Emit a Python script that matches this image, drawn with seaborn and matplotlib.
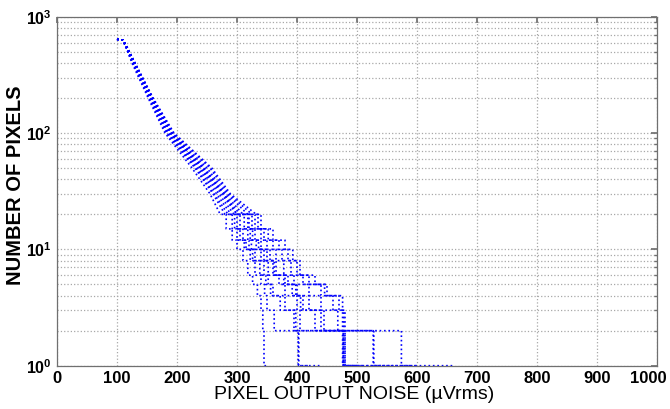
import math
import matplotlib
matplotlib.use("Agg")
import matplotlib.pyplot as plt
import seaborn as sns
import pandas as pd
from matplotlib.transforms import ScaledTranslation
from matplotlib.ticker import FixedLocator, LogLocator, NullLocator, NullFormatter, FuncFormatter

# ---------------- data ----------------
# counts at which the smooth upper part of every curve is sampled
head_levels = [640, 630, 560, 400, 200, 100, 50, 30, 20]
# integer counts of the stepped tail
tail_levels = [15, 12, 10, 8, 6, 5, 4, 3, 2, 1]

# noise value (uVrms) at each head level, per curve
head_c1 = [100, 109, 114, 125, 152, 180, 225, 255, 272]
head_c2 = [100, 110, 114, 126, 153, 182, 230, 260, 280]
head_c3 = [100, 110, 115, 127, 155, 185, 235, 266, 290]
head_c4 = [100, 110, 115, 128, 156, 187, 238, 270, 295]
head_c5 = [100, 110, 115, 128, 157, 189, 240, 274, 300]
head_c6 = [100, 110, 115, 129, 158, 190, 243, 277, 305]
head_c7 = [100, 110, 115, 129, 158, 191, 246, 280, 310]
head_c8 = [100, 110, 116, 130, 159, 192, 250, 283, 318]
head_c9 = [100, 110, 116, 130, 160, 194, 255, 286, 325]
head_c10 = [100, 110, 116, 130, 160, 195, 258, 289, 332]
head_c11 = [100, 110, 114, 127, 155, 184, 232, 262, 285]
head_c12 = [100, 110, 115, 129, 158, 190, 244, 278, 300]

# noise value at which each tail count is reached, per curve
tail_c1 = [282, 292, 300, 310, 318, 326, 334, 340, 343, 345]
tail_c2 = [292, 300, 312, 322, 330, 340, 346, 350, 362, 403]
tail_c3 = [300, 310, 320, 330, 345, 352, 360, 380, 398, 402]
tail_c4 = [305, 318, 324, 340, 352, 370, 380, 400, 405, 477]
tail_c5 = [312, 322, 332, 345, 360, 380, 398, 410, 440, 476]
tail_c6 = [320, 330, 340, 355, 365, 385, 400, 420, 445, 478]
tail_c7 = [325, 340, 350, 365, 378, 395, 420, 440, 468, 480]
tail_c8 = [330, 345, 360, 375, 390, 410, 440, 460, 476, 527]
tail_c9 = [335, 352, 370, 385, 400, 420, 446, 470, 478, 528]
tail_c10 = [340, 360, 380, 393, 405, 430, 450, 476, 480, 574]
tail_c11 = [296, 305, 315, 326, 338, 348, 356, 372, 395, 480]
tail_c12 = [318, 326, 336, 350, 362, 378, 392, 406, 430, 477]

# maximum noise of each curve (end of the last step at count 1)
end_noise = [352, 420, 440, 500, 480, 560, 540, 590, 600, 662, 500, 510]

heads = [head_c1, head_c2, head_c3, head_c4, head_c5, head_c6,
         head_c7, head_c8, head_c9, head_c10, head_c11, head_c12]
tails = [tail_c1, tail_c2, tail_c3, tail_c4, tail_c5, tail_c6,
         tail_c7, tail_c8, tail_c9, tail_c10, tail_c11, tail_c12]

x_ticks = [0, 100, 200, 300, 400, 500, 600, 700, 800, 900, 1000]

# ---------------- build long table (step corners for the tail) ----------------
rows = []
for i, (hx, tx, xe) in enumerate(zip(heads, tails, end_noise)):
    order = 0
    for x, y in zip(hx, head_levels):
        rows.append((i, order, x, y)); order += 1
    prev_y = head_levels[-1]
    for x, y in zip(tx, tail_levels):
        rows.append((i, order, x, prev_y)); order += 1
        rows.append((i, order, x, y)); order += 1
        prev_y = y
    rows.append((i, order, xe, prev_y))
df = pd.DataFrame(rows, columns=["curve", "order", "noise", "count"])

# ---------------- figure ----------------
sns.set_theme(style="white")
plt.rcParams["font.family"] = ["Liberation Sans", "DejaVu Sans"]
plt.rcParams["mathtext.fontset"] = "custom"
plt.rcParams["mathtext.rm"] = "Liberation Sans"
plt.rcParams["mathtext.bf"] = "Liberation Sans:bold"

fig = plt.figure(figsize=(6.7, 4.09), dpi=100)
ax = fig.add_axes([57 / 670, 1 - 365.7 / 409, 600 / 670, 349 / 409])

sns.lineplot(data=df, x="noise", y="count", units="curve", estimator=None,
             sort=False, color="#0000ff", linestyle=":", linewidth=1.2,
             legend=False, ax=ax)

ax.set_yscale("log")
ax.set_xlim(0, 1000)
ax.set_ylim(1, 1000)
ax.xaxis.set_major_locator(FixedLocator(x_ticks))
ax.xaxis.set_minor_locator(NullLocator())
ax.yaxis.set_major_locator(LogLocator(base=10))
ax.yaxis.set_minor_locator(LogLocator(base=10, subs=range(2, 10)))
ax.yaxis.set_minor_formatter(NullFormatter())
ax.yaxis.set_major_formatter(
    FuncFormatter(lambda v, p: r"$\mathbf{10^{%d}}$" % round(math.log10(v))))

ax.grid(True, which="major", axis="x", linestyle=":", color="#a8a8a8", linewidth=0.9)
ax.grid(True, which="both", axis="y", linestyle=":", color="#a8a8a8", linewidth=0.9)
ax.set_axisbelow(True)

for s in ax.spines.values():
    s.set_color("#707070")
    s.set_linewidth(0.9)
ax.tick_params(which="both", direction="in", top=True, right=True, colors="#707070")
ax.tick_params(which="major", length=4)
ax.tick_params(which="minor", length=2)
ax.tick_params(axis="x", labelsize=12, labelcolor="black", pad=4)
ax.tick_params(axis="y", labelsize=11.5, labelcolor="black", pad=4)
xlabels = ax.get_xticklabels()
for lab in xlabels:
    lab.set_fontweight("bold")
# keep the last label ("1000") inside the figure edge
xlabels[-1].set_transform(xlabels[-1].get_transform()
                          + ScaledTranslation(-6 / 72, 0, fig.dpi_scale_trans))

ax.set_xlabel("PIXEL OUTPUT NOISE (µVrms)", fontsize=14, color="black")
ax.set_ylabel("NUMBER OF PIXELS", fontsize=14.5, fontweight="bold", color="black")
ax.xaxis.set_label_coords(0.496, -0.058)
ax.yaxis.set_label_coords(-0.053, 0.517)

fig.savefig("out.png", dpi=100)
